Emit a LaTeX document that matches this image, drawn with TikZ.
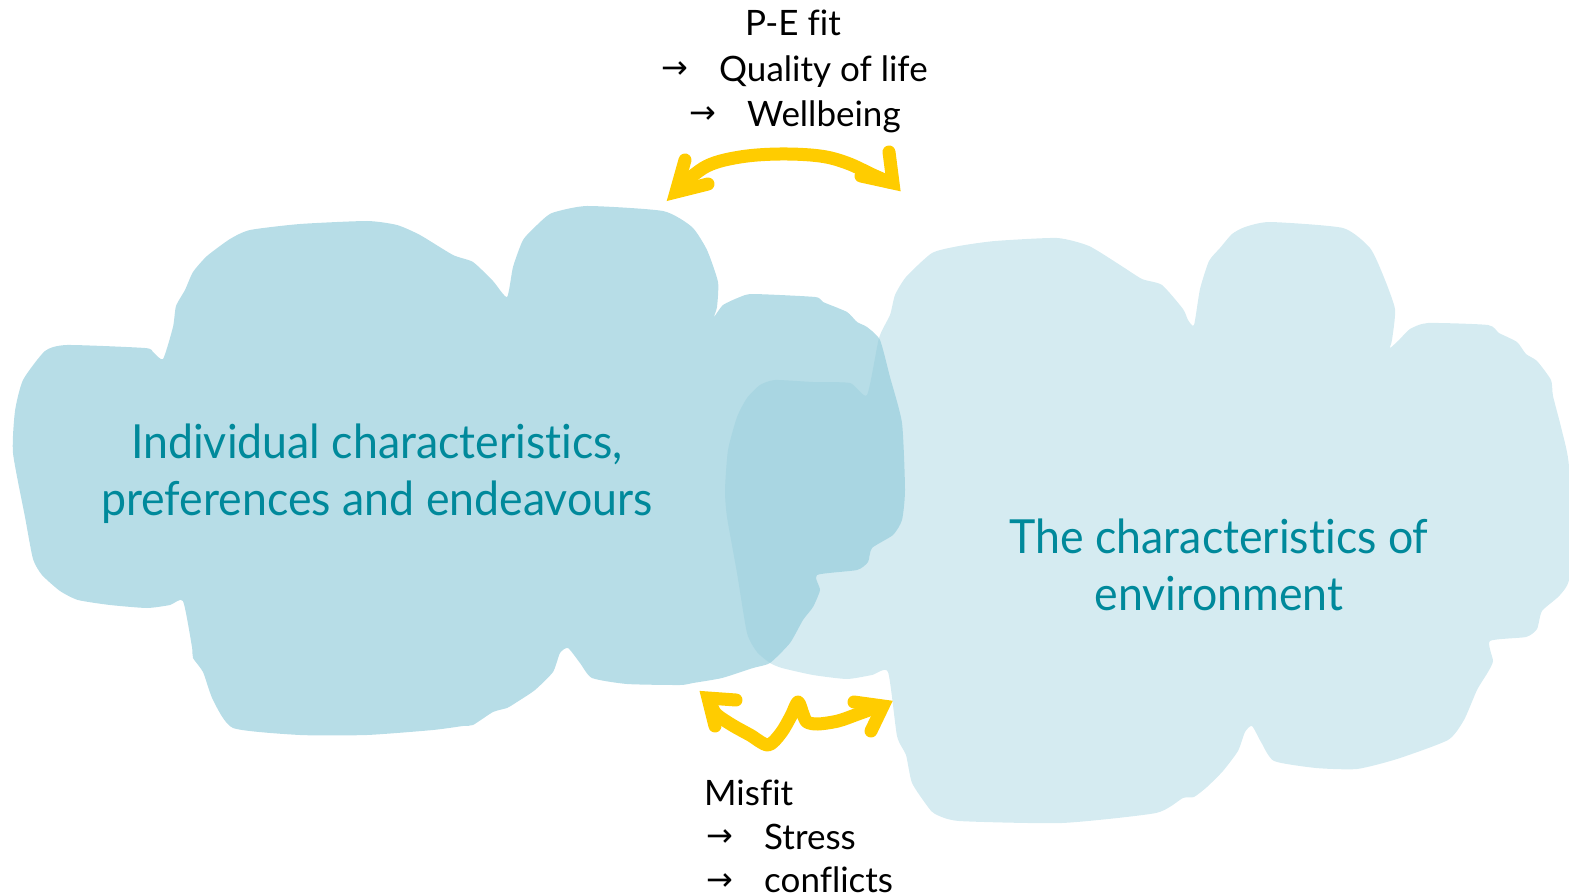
\documentclass[tikz,border=0pt]{standalone}
\usepackage{fontspec}
\setmainfont{Lato}[Ligatures={NoCommon,NoRequired,NoContextual}]
\newfontfamily\tealfont{Lato}[FakeStretch=0.95,Ligatures={NoCommon,NoRequired,NoContextual}]
\newfontfamily\blkfont{Lato}[Ligatures={NoCommon,NoRequired,NoContextual}]
\newfontfamily\arrfont{DejaVu Sans}
\definecolor{leftblob}{RGB}{183,221,231}
\definecolor{rightblob}{RGB}{147,204,219}
\definecolor{tealtext}{RGB}{0,137,155}
\definecolor{ylw}{RGB}{255,204,0}
\tikzset{
  tealtxt/.style={inner sep=0pt, text=tealtext, font=\tealfont\fontsize{47}{56}\selectfont},
  blktxt/.style={inner sep=0pt, text=black, font=\blkfont\fontsize{35}{42}\selectfont},
  arrtxt/.style={inner sep=0pt, text=black, font=\arrfont\fontsize{32}{38}\selectfont},
  yshaft/.style={draw=ylw, line width=13pt, line cap=round, line join=round},
  yhead/.style={draw=ylw, line width=13pt, line cap=round, line join=miter, miter limit=10},
}
\begin{document}
\begin{tikzpicture}[x=1pt,y=-1pt]
\useasboundingbox (0,0) rectangle (1569,896);
% left blob
\fill[leftblob] plot[smooth cycle, tension=0.35] coordinates {
(13,453) (15,411) (23,380) (45,351) (67,345) (145,348) (153,352) (163,359)
(173,327) (176,306) (185,290) (193,272) (207,256) (230,239) (250,230) (300,224)
(367,221) (397,225) (420,235) (453,255) (473,262) (493,281) (507,297)
(513,267) (523,240) (537,225) (552,213) (587,206) (663,211) (692,227) (707,250)
(718,282) (717,307) (714,317)
(723,305) (740,297) (753,294) (815,297) (823,302) (847,312) (857,322) (867,327)
(880,340) (890,377) (902,423) (905,490) (902,520) (893,535) (872,548) (868,562)
(857,570) (817,575) (820,590) (813,607) (803,620) (790,643) (770,663) (753,668)
(722,678) (693,683) (680,685) (627,684) (592,678) (580,663) (568,648)
(560,653) (553,672) (535,690) (517,702) (507,708) (493,712) (473,725) (463,726)
(433,730) (367,735) (300,735) (233,728) (213,700) (203,672) (193,658) (192,647)
(183,601) (170,605) (147,608) (110,605) (78,600) (60,591) (42,575) (33,559) (25,517)};
% right blob
\fill[rightblob, fill opacity=0.39] plot[smooth cycle, tension=0.35] coordinates {
(867,395) (879,338) (890,315) (895,295) (906,277) (932,253) (959,246) (995,241)
(1057,238) (1089,246) (1120,265) (1142,279) (1162,285) (1183,309) (1188,320) (1194,325)
(1200,289) (1209,261) (1220,248) (1232,234) (1245,227) (1270,222) (1343,228) (1370,248)
(1383,275) (1395,309) (1392,340) (1390,348)
(1399,340) (1410,329) (1428,323) (1488,325) (1499,333) (1517,342) (1526,354) (1537,361)
(1551,380) (1553,396) (1562,431) (1569,467) (1570,574) (1560,595) (1542,611) (1537,629)
(1526,637) (1490,641) (1493,661) (1488,672) (1477,690) (1464,720) (1448,740) (1397,759)
(1357,769) (1316,768) (1274,761) (1261,742) (1252,726)
(1245,732) (1238,751) (1223,771) (1207,787) (1194,797) (1183,798) (1156,813) (1062,823)
(959,821) (935,814) (928,807) (912,783) (906,755) (897,736) (888,672)
(872,675) (847,679) (813,675) (782,668) (770,663) (757,652) (747,633) (737,573)
(727,517) (725,490) (728,450) (737,417) (747,398) (760,385) (775,380) (813,382) (850,383)};
% teal texts
\node[tealtxt, anchor=base] (ind1) at (377,458) {Individual characteristics,};
\node[tealtxt, anchor=base] (ind2) at (377,515) {preferences and endeavours};
\node[tealtxt, anchor=base] (env1) at (1219,553) {The characteristics of};
\node[tealtxt, anchor=base] (env2) at (1219,610) {environment};
% top labels
\node[blktxt, anchor=base] (pe) at (793,36) {P-E fit};
\node[arrtxt, anchor=base] (pa1) at (675,79) {→};
\node[blktxt, anchor=base west] (qol) at (719,82) {Quality of life};
\node[arrtxt, anchor=base] (pa2) at (703,124) {→};
\node[blktxt, anchor=base west] (wb) at (747,127) {Wellbeing};
% bottom labels
\node[blktxt, anchor=base west] (mf) at (704,805) {Misfit};
\node[arrtxt, anchor=base] (ma1) at (720,846) {→};
\node[blktxt, anchor=base west] (st) at (764,849) {Stress};
\node[arrtxt, anchor=base] (ma2) at (720,890) {→};
\node[blktxt, anchor=base west] (cf) at (764,892) {conflicts};
% top yellow double arrow
\coordinate (tL) at (676,192);
\coordinate (tR) at (893,183);
\draw[yshaft] plot[smooth, tension=0.6] coordinates {(682,185) (707,166) (740,157) (780,154) (820,156) (847,163) (873,175) (889,182)};
\draw[yhead] (685,160) -- (tL) -- (708,184);
\draw[yhead] (889,152) -- (tR) -- (861,176);
% bottom yellow double arrow
\coordinate (bL) at (708,698);
\coordinate (bR) at (883,706);
\draw[yshaft] plot[smooth, tension=0.5] coordinates {(711,704) (716,714) (732,725) (750,735) (768,745) (781,733) (791,716) (798,702) (803,714) (807,722) (818,724) (838,721) (858,714) (880,706)};
\draw[yhead] (736,700) -- (bL) -- (715,726);
\draw[yhead] (854,702) -- (bR) -- (871,731);
\end{tikzpicture}
\end{document}
